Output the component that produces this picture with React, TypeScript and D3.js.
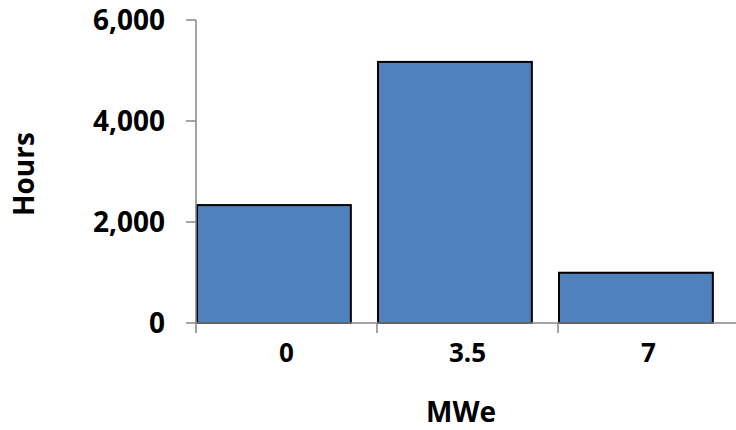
import React from "react";
import * as d3 from "d3";

const categories = ["0", "3.5", "7"];
const hours = [2335, 5170, 995];
const yTicks = [0, 2000, 4000, 6000];

const W = 736;
const H = 430;
const left = 196;
const right = 739;
const top = 20;
const bottom = 323;

export default function App() {
  const x = d3.scaleBand<string>().domain(categories).range([left, right]).padding(0);
  const y = d3.scaleLinear().domain([0, 6000]).range([bottom, top]);
  const bw = x.bandwidth();
  const barW = bw * 0.85;
  const fmt = d3.format(",");
  const font = "'Open Sans', 'Noto Sans', sans-serif";
  const axisColor = "#868686";
  return (
    <svg width={W} height={H} style={{ position: "absolute", left: 0, top: 0 }}>
      <rect width={W} height={H} fill="#fff" />
      {categories.map((c, i) => (
        <rect
          key={c}
          x={(x(c) as number) + 1}
          y={y(hours[i])}
          width={barW}
          height={bottom - y(hours[i])}
          fill="#4F81BD"
          stroke="#000"
          strokeWidth={2}
        />
      ))}
      <line x1={left} x2={left} y1={top} y2={bottom} stroke={axisColor} strokeWidth={1.5} />
      <line x1={left} x2={right} y1={bottom} y2={bottom} stroke={axisColor} strokeWidth={1.5} />
      {yTicks.map((t) => (
        <g key={t}>
          <line x1={left - 10} x2={left} y1={y(t)} y2={y(t)} stroke={axisColor} strokeWidth={1.5} />
          <text
            x={165}
            y={y(t)}
            dy="0.36em"
            textAnchor="end"
            fontFamily={font}
            fontWeight={700}
            fontSize={28}
            fill="#000"
          >
            {fmt(t)}
          </text>
        </g>
      ))}
      {categories.map((c) => (
        <line
          key={"t" + c}
          x1={x(c) as number}
          x2={x(c) as number}
          y1={bottom}
          y2={bottom + 10}
          stroke={axisColor}
          strokeWidth={1.5}
        />
      ))}
      {categories.map((c) => (
        <text
          key={"l" + c}
          x={(x(c) as number) + bw / 2}
          y={352.5}
          dy="0.36em"
          textAnchor="middle"
          fontFamily={font}
          fontWeight={700}
          fontSize={26}
          fill="#000"
        >
          {c}
        </text>
      ))}
      <text
        x={461}
        y={412}
        dy="0.36em"
        textAnchor="middle"
        fontFamily={font}
        fontWeight={700}
        fontSize={28}
        fill="#000"
      >
        MWe
      </text>
      <text
        transform="translate(24,174) rotate(-90)"
        dy="0.36em"
        textAnchor="middle"
        fontFamily={font}
        fontWeight={700}
        fontSize={28}
        fill="#000"
      >
        Hours
      </text>
    </svg>
  );
}
